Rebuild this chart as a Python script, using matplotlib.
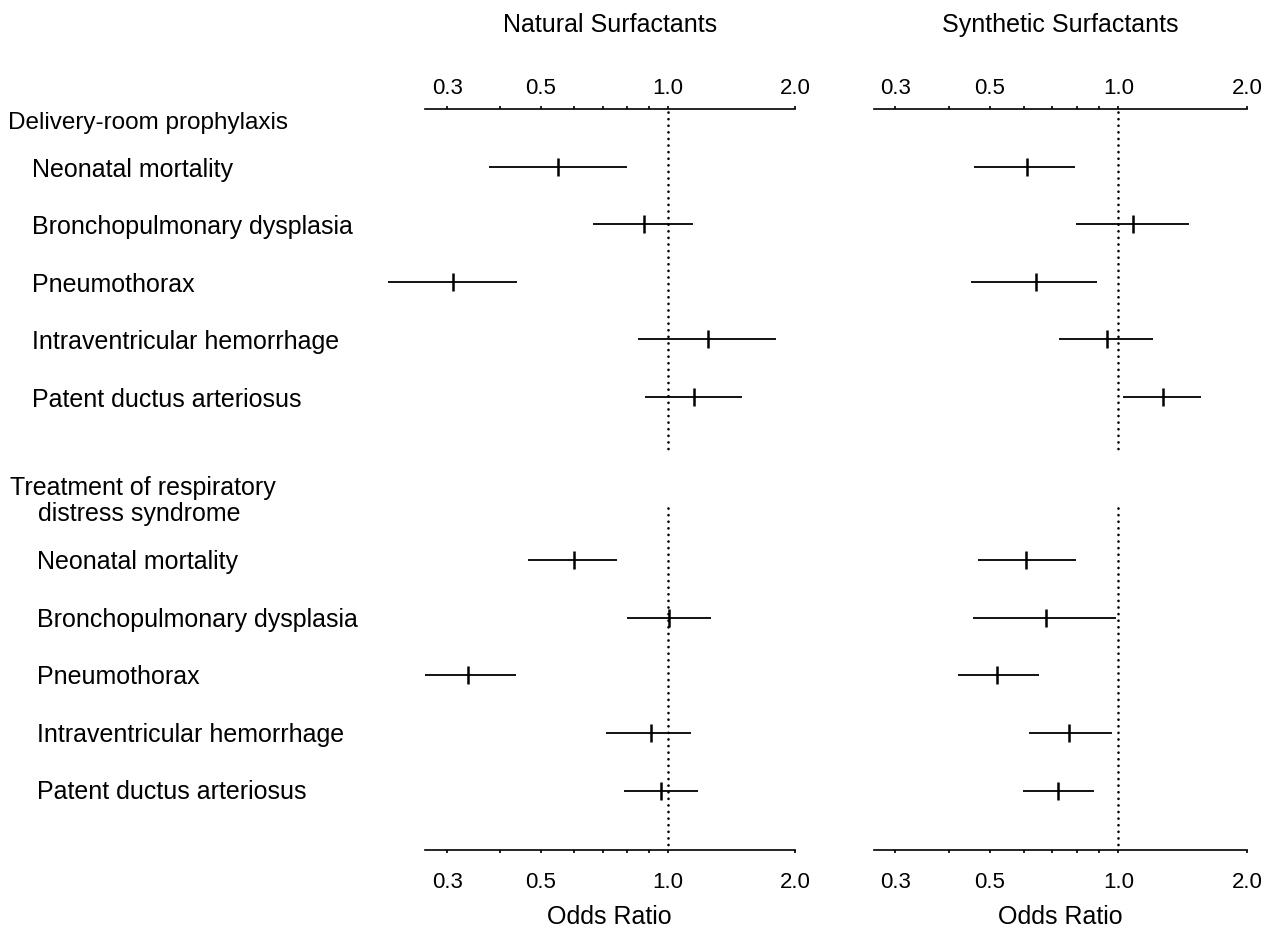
"""
Forest plot: odds ratios for natural vs synthetic surfactants.
"""

import numpy as np
import matplotlib.pyplot as plt
from matplotlib.transforms import blended_transform_factory

plt.rcParams["font.family"] = ["Liberation Sans", "DejaVu Sans"]

# =========================
# Data
# =========================

outcomes = [
    "Neonatal mortality",
    "Bronchopulmonary dysplasia",
    "Pneumothorax",
    "Intraventricular hemorrhage",
    "Patent ductus arteriosus",
]
sections = ["Delivery-room prophylaxis", "Treatment of respiratory\ndistress syndrome"]
panels = ["Natural Surfactants", "Synthetic Surfactants"]

tick_values = [0.3, 0.5, 1.0, 2.0]
tick_labels = ["0.3", "0.5", "1.0", "2.0"]
minor_values = [0.4, 0.6, 0.7, 0.8, 0.9]

# natural surfactants, delivery-room prophylaxis
nat_prophy_or = [0.549, 0.877, 0.309, 1.244, 1.154]
nat_prophy_lo = [0.376, 0.664, 0.217, 0.851, 0.882]
nat_prophy_hi = [0.798, 1.146, 0.438, 1.807, 1.497]

# natural surfactants, treatment of RDS
nat_treat_or = [0.600, 1.003, 0.336, 0.909, 0.961]
nat_treat_lo = [0.465, 0.800, 0.266, 0.713, 0.785]
nat_treat_hi = [0.757, 1.267, 0.436, 1.136, 1.178]

# synthetic surfactants, delivery-room prophylaxis
syn_prophy_or = [0.610, 1.083, 0.641, 0.940, 1.269]
syn_prophy_lo = [0.459, 0.795, 0.451, 0.725, 1.022]
syn_prophy_hi = [0.789, 1.464, 0.889, 1.206, 1.563]

# synthetic surfactants, treatment of RDS
syn_treat_or = [0.608, 0.676, 0.520, 0.764, 0.722]
syn_treat_lo = [0.469, 0.457, 0.420, 0.616, 0.596]
syn_treat_hi = [0.795, 0.984, 0.650, 0.966, 0.876]


# =========================
# Drawing helpers
# =========================

FS = 18
TICK_FS = 16
TOP_ROWS = np.arange(1, 6)
BOT_ROWS = np.arange(1, 6) + 6.83
Y_MAX = 12.86


def draw_rows(ax, rows, odds, lo, hi):
    for y, o, a, b in zip(rows, odds, lo, hi):
        ax.plot([a, b], [y, y], color="black", lw=1.3, clip_on=False,
                solid_capstyle="butt")
        ax.plot([o], [y], marker="|", ms=12.5, mew=1.8, color="black",
                clip_on=False)


def style_axis(ax, xlim):
    ax.set_xscale("log")
    ax.set_xlim(*xlim)
    ax.set_ylim(Y_MAX, 0)
    for side in ["left", "right", "top"]:
        ax.spines[side].set_visible(False)
    ax.spines["bottom"].set_linewidth(1.2)
    ax.set_yticks([])
    ax.set_xticks(tick_values)
    ax.set_xticklabels(tick_labels)
    ax.set_xticks(minor_values, minor=True)
    ax.xaxis.set_minor_formatter(plt.NullFormatter())
    ax.tick_params(axis="x", which="both", direction="out", length=2.5,
                   width=1.2, pad=13, labelsize=TICK_FS)

    # top axis: same ticks, labels sitting closer to the line
    top = ax.secondary_xaxis("top")
    top.spines["top"].set_linewidth(1.2)
    top.set_xticks(tick_values)
    top.set_xticklabels(tick_labels)
    top.set_xticks(minor_values, minor=True)
    top.xaxis.set_minor_formatter(plt.NullFormatter())
    top.tick_params(axis="x", which="both", direction="out", length=2.5,
                    width=1.2, pad=5, labelsize=TICK_FS)

    # dotted reference line at OR = 1, broken between the two sections
    for y0, y1 in [(0.05, 5.95), (6.93, Y_MAX)]:
        ax.plot([1.0, 1.0], [y0, y1], color="black", lw=1.9,
                linestyle=(0, (0.05, 2.45)), dash_capstyle="round")


# =========================
# Main execution
# =========================

if __name__ == "__main__":
    fig = plt.figure(figsize=(12.76, 9.31), dpi=100)

    ax_nat = fig.add_axes([0.3327, 0.0870, 0.2904, 0.7959])
    ax_syn = fig.add_axes([0.6852, 0.0870, 0.2921, 0.7959])

    style_axis(ax_nat, (0.265, 2.0))
    style_axis(ax_syn, (0.268, 2.0))

    draw_rows(ax_nat, TOP_ROWS, nat_prophy_or, nat_prophy_lo, nat_prophy_hi)
    draw_rows(ax_nat, BOT_ROWS, nat_treat_or, nat_treat_lo, nat_treat_hi)
    draw_rows(ax_syn, TOP_ROWS, syn_prophy_or, syn_prophy_lo, syn_prophy_hi)
    draw_rows(ax_syn, BOT_ROWS, syn_treat_or, syn_treat_lo, syn_treat_hi)

    for ax, title in zip([ax_nat, ax_syn], panels):
        ax.text(0.5, 1.113, title, transform=ax.transAxes, ha="center",
                va="center", fontsize=FS)
        ax.text(0.5, -0.091, "Odds Ratio", transform=ax.transAxes,
                ha="center", va="center", fontsize=FS)

    # row labels on the left
    tr = blended_transform_factory(fig.transFigure, ax_nat.transData)
    ax_nat.text(8 / 1276, 0.25, sections[0], transform=tr, ha="left",
                va="center", fontsize=FS - 0.5)
    head = sections[1].split("\n")
    ax_nat.text(10 / 1276, 6.58, head[0], transform=tr, ha="left",
                va="center", fontsize=FS)
    ax_nat.text(38 / 1276, 7.02, head[1], transform=tr, ha="left",
                va="center", fontsize=FS)
    for y, name in zip(TOP_ROWS, outcomes):
        ax_nat.text(32 / 1276, y + 0.05, name, transform=tr, ha="left",
                    va="center", fontsize=FS)
    for y, name in zip(BOT_ROWS, outcomes):
        ax_nat.text(37 / 1276, y + 0.03, name, transform=tr, ha="left",
                    va="center", fontsize=FS)

    fig.savefig("out.png", dpi=100, facecolor="white")
